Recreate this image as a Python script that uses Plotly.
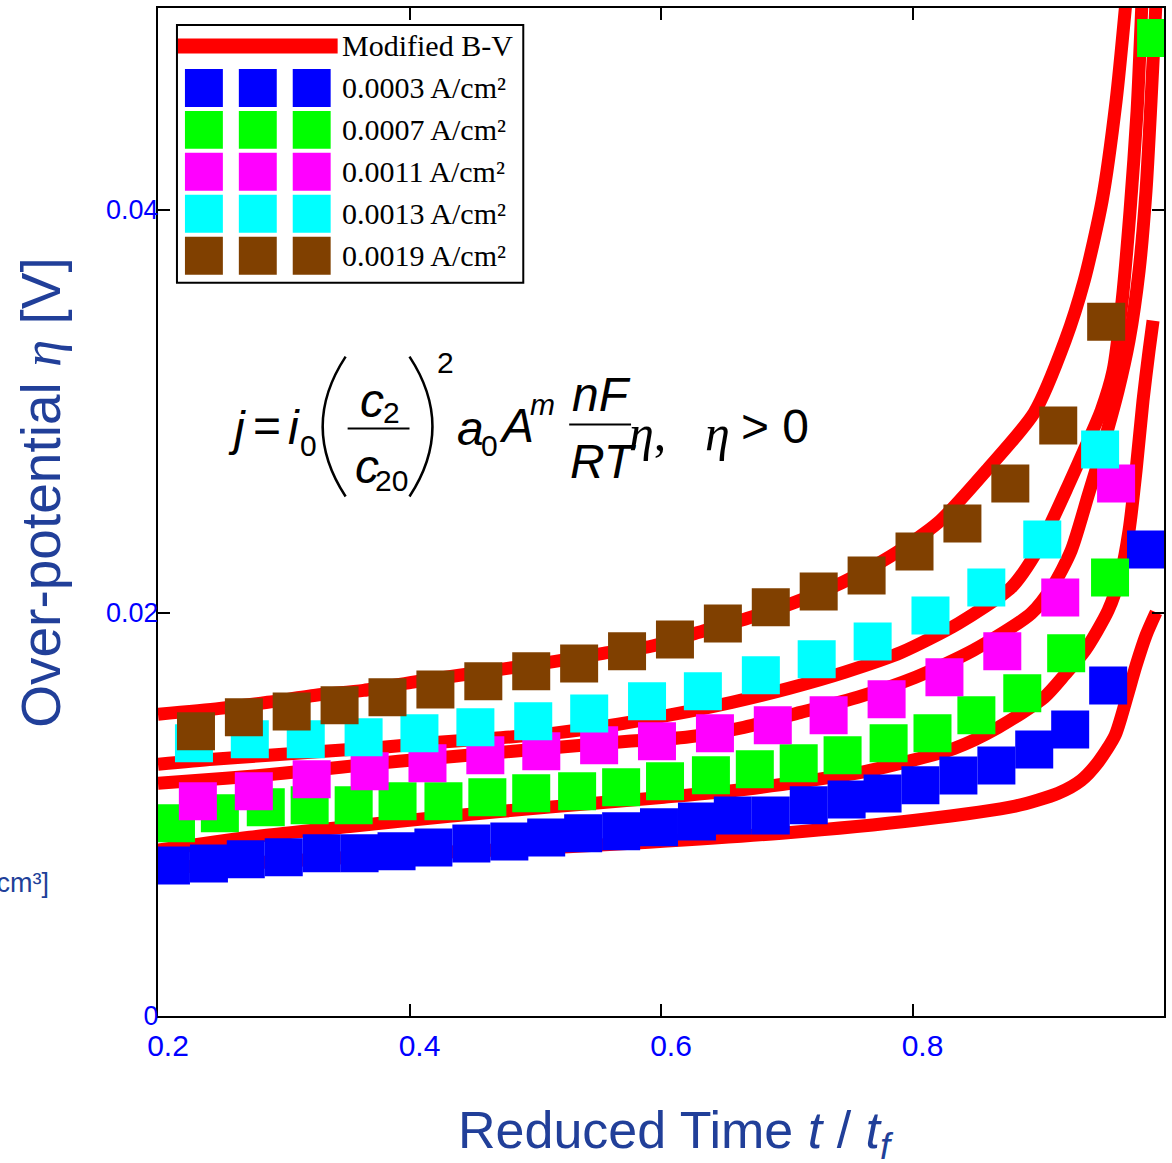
import plotly.graph_objects as go

# ---------------- data ----------------
series_names = ["0.0003 A/cm²", "0.0007 A/cm²", "0.0011 A/cm²", "0.0013 A/cm²", "0.0019 A/cm²"]
series_colors = ["#0000FF", "#00FF00", "#FF00FF", "#00FFFF", "#804000"]

t_0003 = [0.2103, 0.2405, 0.2698, 0.3000, 0.3302, 0.3603, 0.3897, 0.4190, 0.4492, 0.4794,
          0.5087, 0.5381, 0.5683, 0.5984, 0.6286, 0.6571, 0.6873, 0.7175, 0.7476, 0.7762,
          0.8063, 0.8365, 0.8667, 0.8968, 0.9254, 0.9556, 0.9857]
eta_0003 = [0.00746, 0.00757, 0.00777, 0.00787, 0.00807, 0.00807, 0.00817, 0.00836, 0.00856, 0.00866,
            0.00886, 0.00906, 0.00916, 0.00936, 0.00965, 0.00995, 0.00995, 0.01045, 0.01074, 0.01104,
            0.01144, 0.01193, 0.01243, 0.01322, 0.01421, 0.01639, 0.02314]

t_0007 = [0.2143, 0.2492, 0.2857, 0.3206, 0.3556, 0.3905, 0.4270, 0.4619, 0.4968, 0.5333,
          0.5683, 0.6032, 0.6397, 0.6746, 0.7095, 0.7444, 0.7810, 0.8159, 0.8508, 0.8873,
          0.9222, 0.9571, 0.9937]
eta_0007 = [0.00956, 0.01006, 0.01036, 0.01046, 0.01046, 0.01065, 0.01065, 0.01085, 0.01105, 0.01115,
            0.01135, 0.01165, 0.01194, 0.01224, 0.01254, 0.01293, 0.01353, 0.01402, 0.01492, 0.01601,
            0.01799, 0.02175, 0.04851]

t_0011 = [0.2317, 0.2762, 0.3222, 0.3683, 0.4143, 0.4603, 0.5048, 0.5508, 0.5968, 0.6429,
          0.6889, 0.7333, 0.7794, 0.8254, 0.8714, 0.9175, 0.9619]
eta_0011 = [0.01065, 0.01115, 0.01174, 0.01214, 0.01254, 0.01293, 0.01313, 0.01343, 0.01363, 0.01402,
            0.01442, 0.01492, 0.01571, 0.01680, 0.01809, 0.02076, 0.02641]

t_0013 = [0.2286, 0.2730, 0.3175, 0.3635, 0.4079, 0.4524, 0.4984, 0.5429, 0.5889, 0.6333,
          0.6794, 0.7238, 0.7683, 0.8143, 0.8587, 0.9032, 0.9492]
eta_0013 = [0.01353, 0.01373, 0.01373, 0.01383, 0.01402, 0.01432, 0.01462, 0.01501, 0.01561, 0.01611,
            0.01690, 0.01769, 0.01858, 0.01987, 0.02126, 0.02364, 0.02810]

t_0019 = [0.2302, 0.2683, 0.3063, 0.3444, 0.3825, 0.4206, 0.4587, 0.4968, 0.5349, 0.5730,
          0.6111, 0.6492, 0.6873, 0.7254, 0.7635, 0.8016, 0.8397, 0.8778, 0.9159, 0.9540]
eta_0019 = [0.01412, 0.01482, 0.01511, 0.01541, 0.01581, 0.01620, 0.01660, 0.01710, 0.01749, 0.01809,
            0.01868, 0.01947, 0.02027, 0.02106, 0.02185, 0.02304, 0.02443, 0.02641, 0.02929, 0.03444]

# Modified B-V model curves
bv_t_0003 = [0.2000, 0.3127, 0.4317, 0.5190, 0.5905, 0.6960, 0.8024, 0.8817, 0.9159, 0.9341,
             0.9476, 0.9611, 0.9698, 0.9778, 0.9857, 0.9937]
bv_eta_0003 = [0.00733, 0.00773, 0.00813, 0.00837, 0.00862, 0.00907, 0.00971, 0.01041, 0.01105, 0.01169,
               0.01259, 0.01392, 0.01566, 0.01739, 0.01888, 0.02002]

bv_t_0007 = [0.2000, 0.2730, 0.3524, 0.4317, 0.5111, 0.6024, 0.6675, 0.7627, 0.8333, 0.8683,
             0.9048, 0.9214, 0.9373, 0.9556, 0.9659, 0.9722, 0.9778, 0.9833, 0.9881, 0.9913]
bv_eta_0007 = [0.00823, 0.00887, 0.00940, 0.00991, 0.01036, 0.01085, 0.01125, 0.01214, 0.01328, 0.01432,
               0.01581, 0.01695, 0.01814, 0.02012, 0.02200, 0.02408, 0.02706, 0.03053, 0.03300, 0.03449]

bv_t_0011 = [0.2000, 0.2540, 0.2992, 0.3452, 0.3913, 0.4373, 0.4825, 0.5278, 0.5738, 0.6198,
             0.6659, 0.7111, 0.7563, 0.8024, 0.8484, 0.8944, 0.9119, 0.9262, 0.9397, 0.9516,
             0.9635, 0.9722, 0.9802, 0.9857, 0.9897, 0.9937]
bv_eta_0011 = [0.01155, 0.01179, 0.01204, 0.01234, 0.01264, 0.01288, 0.01313, 0.01338, 0.01363, 0.01383,
               0.01432, 0.01506, 0.01581, 0.01680, 0.01814, 0.01997, 0.02136, 0.02309, 0.02582, 0.02830,
               0.03102, 0.03350, 0.03697, 0.04093, 0.04539, 0.05035]

bv_t_0013 = [0.2000, 0.2437, 0.2881, 0.3325, 0.3786, 0.4230, 0.4675, 0.5135, 0.5659, 0.6063,
             0.6563, 0.7016, 0.7460, 0.7913, 0.8365, 0.8786, 0.8960, 0.9103, 0.9238, 0.9381,
             0.9500, 0.9595, 0.9667, 0.9730, 0.9786, 0.9825]
bv_eta_0013 = [0.01249, 0.01274, 0.01293, 0.01313, 0.01333, 0.01358, 0.01378, 0.01402, 0.01447, 0.01492,
               0.01556, 0.01625, 0.01705, 0.01804, 0.01947, 0.02126, 0.02275, 0.02448, 0.02631, 0.02830,
               0.03003, 0.03201, 0.03548, 0.03994, 0.04490, 0.05035]

bv_t_0019 = [0.2000, 0.2492, 0.2873, 0.3254, 0.3635, 0.4016, 0.4397, 0.4778, 0.5159, 0.5540,
             0.5921, 0.6302, 0.6683, 0.7063, 0.7444, 0.7825, 0.8206, 0.8587, 0.8968, 0.9214,
             0.9365, 0.9508, 0.9619, 0.9698]
bv_eta_0019 = [0.01497, 0.01526, 0.01556, 0.01591, 0.01615, 0.01655, 0.01690, 0.01724, 0.01759, 0.01799,
               0.01834, 0.01903, 0.01972, 0.02052, 0.02151, 0.02280, 0.02448, 0.02706, 0.02993, 0.03350,
               0.03647, 0.04044, 0.04539, 0.05035]

x_tickvals = [0.2, 0.4, 0.6, 0.8]
x_ticktext = ["0.2", "0.4", "0.6", "0.8"]
y_tickvals = [0, 0.02, 0.04]
y_ticktext = ["0", "0.02", "0.04"]

# ---------------- geometry ----------------
W, H = 1172, 1163
ML, MR, MT, MB = 158, 6, 7, 147
PW = W - ML - MR
PH = H - MT - MB


def fx(px):
    return (px - ML) / PW


def fy(py):
    return (H - MB - py) / PH


TITLE_C = "#213F99"
TICK_C = "#0000FF"
SANS = "Liberation Sans, Arial, sans-serif"
NARROW = "Liberation Sans Narrow, Arial Narrow, Liberation Sans, Arial, sans-serif"
SERIF = "Liberation Serif, Times New Roman, serif"

fig = go.Figure()

bv_curves = [(bv_t_0003, bv_eta_0003), (bv_t_0007, bv_eta_0007), (bv_t_0011, bv_eta_0011),
             (bv_t_0013, bv_eta_0013), (bv_t_0019, bv_eta_0019)]
for bt, be in bv_curves:
    fig.add_trace(go.Scatter(x=bt, y=be, mode="lines", name="Modified B-V",
                             line=dict(color="#FF0000", width=13, shape="spline", smoothing=0.7),
                             showlegend=False, hoverinfo="skip"))

series = [(t_0003, eta_0003), (t_0007, eta_0007), (t_0011, eta_0011), (t_0013, eta_0013), (t_0019, eta_0019)]
for (st, se), nm, col in zip(series, series_names, series_colors):
    fig.add_trace(go.Scatter(x=st, y=se, mode="markers", name=nm,
                             marker=dict(symbol="square", size=38, color=col, line=dict(width=0)),
                             showlegend=False))

shapes = []
annotations = []

# ---------------- custom legend ----------------
shapes.append(dict(type="rect", xref="paper", yref="paper", x0=fx(177), x1=fx(524), y0=fy(282), y1=fy(24),
                   line=dict(color="black", width=2), fillcolor="white", layer="above"))
shapes.append(dict(type="line", xref="paper", yref="paper", x0=fx(178), x1=fx(338), y0=fy(45), y1=fy(45),
                   line=dict(color="#FF0000", width=15), layer="above"))
annotations.append(dict(xref="paper", yref="paper", x=fx(340), y=fy(45), xanchor="left", yanchor="middle",
                        text="Modified B-V", showarrow=False, font=dict(family=SERIF, size=30, color="black")))
row_y = [87, 129, 171, 213, 255]
sq_x = [185, 239, 293]
for ry, nm, col in zip(row_y, series_names, series_colors):
    for sx in sq_x:
        shapes.append(dict(type="rect", xref="paper", yref="paper", x0=fx(sx), x1=fx(sx + 38),
                           y0=fy(ry + 19), y1=fy(ry - 19), line=dict(width=0), fillcolor=col, layer="above"))
    annotations.append(dict(xref="paper", yref="paper", x=fx(340), y=fy(ry), xanchor="left", yanchor="middle",
                            text=nm, showarrow=False, font=dict(family=SERIF, size=30, color="black")))

# ---------------- equation ----------------
EQ = 48
SUB = 30


def eq(text, px, py, size=EQ, anchor="left", family=SANS):
    annotations.append(dict(xref="paper", yref="paper", x=fx(px), y=fy(py), xanchor=anchor, yanchor="middle",
                            text=text, showarrow=False, font=dict(family=family, size=size, color="black")))


eq("<i>j</i>", 226, 428)
eq("=", 267, 425, anchor="center")
eq("<i>i</i>", 286, 427)
eq("0", 298, 445, SUB)
# parentheses
shapes.append(dict(type="path", xref="paper", yref="paper", layer="above",
                   path="M %f,%f Q %f,%f %f,%f" % (fx(346), fy(356), fx(300), fy(426), fx(346), fy(496)),
                   line=dict(color="black", width=2.5)))
shapes.append(dict(type="path", xref="paper", yref="paper", layer="above",
                   path="M %f,%f Q %f,%f %f,%f" % (fx(410), fy(356), fx(456), fy(426), fx(410), fy(496)),
                   line=dict(color="black", width=2.5)))
eq("<i>c</i>", 358, 400)
eq("2", 381, 412, SUB)
shapes.append(dict(type="line", xref="paper", yref="paper", x0=fx(348), x1=fx(410), y0=fy(428), y1=fy(428),
                   line=dict(color="black", width=2), layer="above"))
eq("<i>c</i>", 353, 466)
eq("20", 373, 480, SUB)
eq("2", 436, 362, SUB)
eq("<i>a</i>", 456, 428)
eq("0", 480, 445, SUB)
eq("<i>A</i>", 498, 425)
eq("<i>m</i>", 529, 404, SUB)
eq("<i>nF</i>", 602, 394, anchor="center")
shapes.append(dict(type="line", xref="paper", yref="paper", x0=fx(570), x1=fx(632), y0=fy(424), y1=fy(424),
                   line=dict(color="black", width=2), layer="above"))
eq("<i>RT</i>", 604, 461, anchor="center")
eq("<i>η</i>,", 628, 432, size=50, family=SERIF)
eq("<i>η</i>", 704, 432, size=50, family=SERIF)
eq("&gt; 0", 740, 426)

# ---------------- axis titles ----------------
annotations.append(dict(xref="paper", yref="paper", x=fx(677), y=fy(1134), xanchor="center", yanchor="middle",
                        text="Reduced Time <i>t</i> / <i>t</i><sub><i>f</i></sub>", showarrow=False,
                        font=dict(family=SANS, size=52, color=TITLE_C)))
annotations.append(dict(xref="paper", yref="paper", x=fx(40), y=fy(492), xanchor="center", yanchor="middle",
                        text="Over-potential <span style='font-family:Liberation Serif'><i>η</i></span> [V]",
                        textangle=-90, showarrow=False,
                        font=dict(family=SANS, size=55, color=TITLE_C)))
# partially visible label from a neighbouring panel
annotations.append(dict(xref="paper", yref="paper", x=fx(51), y=fy(883), xanchor="right", yanchor="middle",
                        text="[mol/cm³]", showarrow=False,
                        font=dict(family=SANS, size=27, color=TITLE_C)))

fig.update_layout(
    width=W, height=H,
    margin=dict(l=ML, r=MR, t=MT, b=MB, pad=0),
    paper_bgcolor="white", plot_bgcolor="white",
    showlegend=False,
    shapes=shapes, annotations=annotations,
    xaxis=dict(range=[0.2, 1.0], tickmode="array", tickvals=x_tickvals, ticktext=x_ticktext,
               ticks="inside", ticklen=12, tickwidth=1.5, tickcolor="black",
               showline=True, linewidth=2, linecolor="black", mirror="ticks",
               showgrid=False, zeroline=False, ticklabelstandoff=2, ticklabelshift=10,
               tickfont=dict(family=NARROW, size=30, color=TICK_C)),
    yaxis=dict(range=[0, 0.05], tickmode="array", tickvals=y_tickvals, ticktext=y_ticktext,
               ticks="inside", ticklen=12, tickwidth=1.5, tickcolor="black",
               showline=True, linewidth=2, linecolor="black", mirror="ticks",
               showgrid=False, zeroline=False, ticklabelstandoff=-8,
               tickfont=dict(family=SANS, size=27, color=TICK_C)),
)

fig.write_html("out.html", config={"displayModeBar": False},
               post_script="document.body.style.margin='0';document.body.style.overflow='hidden';")
